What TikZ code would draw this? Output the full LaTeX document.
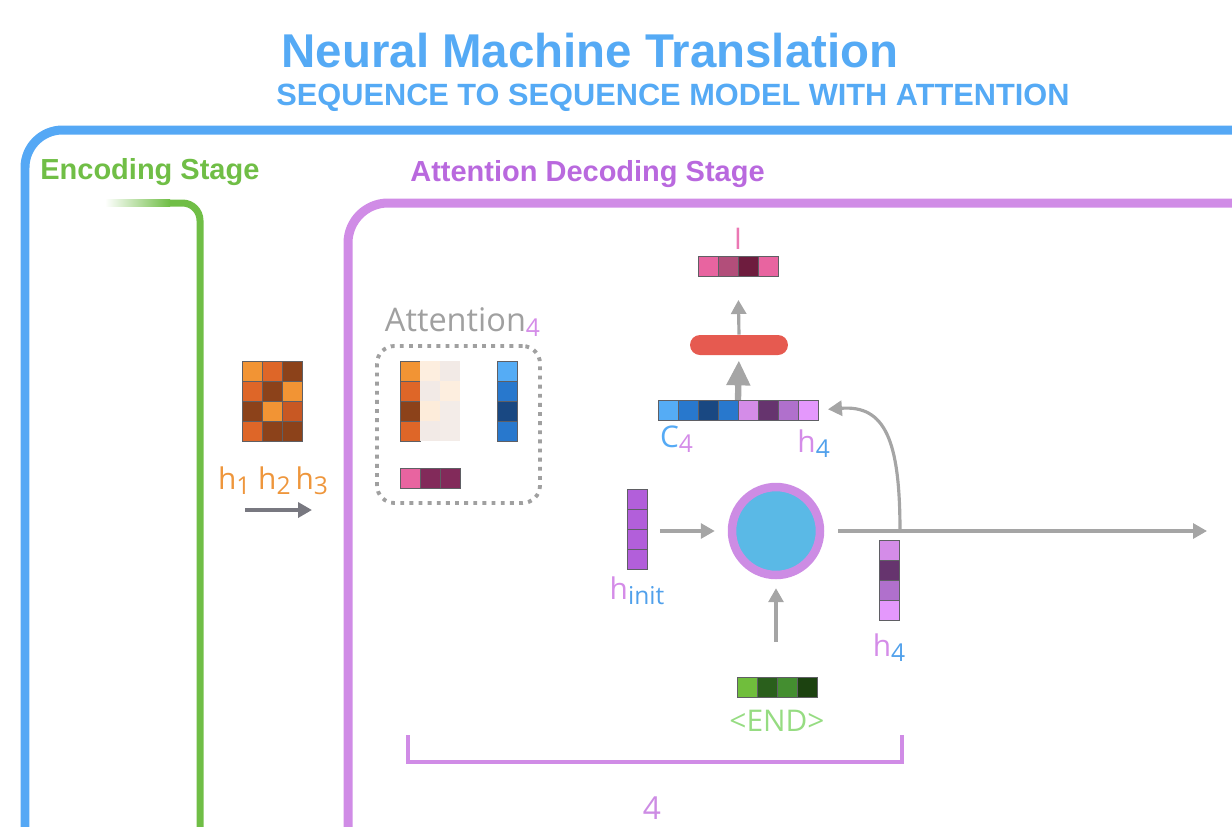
\documentclass[tikz,border=0pt]{standalone}
\usepackage{fontspec}
\setmainfont{Open Sans}
\newfontfamily\headfont{Liberation Sans}
\usetikzlibrary{arrows.meta,positioning,fit}

\definecolor{titleblue}  {RGB}{ 85,170,245}
\definecolor{frameblue}  {RGB}{ 85,168,245}
\definecolor{encgreen}   {RGB}{112,190, 70}
\definecolor{decpurple}  {RGB}{185,105,222}
\definecolor{framepurple}{RGB}{208,140,230}
\definecolor{arrowgray}  {RGB}{165,165,165}
\definecolor{darkarrow}  {RGB}{120,120,128}
\definecolor{cellgray}   {RGB}{ 95, 95,100}
\definecolor{dotgray}    {RGB}{160,160,160}
% cell colours
\definecolor{orL}{RGB}{242,148, 52}
\definecolor{orM}{RGB}{222,102, 40}
\definecolor{orD}{RGB}{140, 66, 26}
\definecolor{orX}{RGB}{200, 88, 35}
\definecolor{bL} {RGB}{ 85,172,245}
\definecolor{bM} {RGB}{ 40,120,205}
\definecolor{bD} {RGB}{ 25, 72,130}
\definecolor{pkL}{RGB}{232,100,160}
\definecolor{pkM}{RGB}{178, 78,122}
\definecolor{pkD}{RGB}{110, 28, 62}
\definecolor{pkW}{RGB}{130, 42, 90}
\definecolor{puL}{RGB}{212,140,232}
\definecolor{puD}{RGB}{102, 52,110}
\definecolor{puM}{RGB}{176,112,204}
\definecolor{puP}{RGB}{228,152,252}
\definecolor{puH}{RGB}{178, 95,218}
\definecolor{gL} {RGB}{112,190, 60}
\definecolor{gD} {RGB}{ 42, 95, 28}
\definecolor{gM} {RGB}{ 68,142, 48}
\definecolor{gX} {RGB}{ 28, 66, 16}
% label colours
\definecolor{hOrange}{RGB}{238,150, 60}
\definecolor{cBlue}  {RGB}{ 85,170,245}
\definecolor{hPurple}{RGB}{212,140,232}
\definecolor{subBlue}{RGB}{ 80,160,235}
\definecolor{attGray}{RGB}{160,160,160}
\definecolor{outPink}{RGB}{235,120,180}
\definecolor{endGreen}{RGB}{150,220,130}
\definecolor{ringpurple}{RGB}{205,140,228}
\definecolor{coreblue}{RGB}{ 90,185,230}
\definecolor{projred}{RGB}{230, 90, 80}

\newcommand{\lowidx}[2]{\raisebox{-0.3ex}{\color{#1}\fontsize{14}{14}\selectfont #2}}

\begin{document}
\begin{tikzpicture}[x=0.02cm, y=-0.02cm,
    cell/.style={draw=cellgray, line width=0.5pt, minimum size=0.4cm, inner sep=0pt, outer sep=0pt},
    ghost/.style={cell, draw=none},
    vecbox/.style={inner sep=0pt, outer sep=0pt},
    frame/.style={line width=0.18cm, rounded corners=0.75cm},
    stage/.style={font=\headfont\bfseries\fontsize{16.5}{18}\selectfont, anchor=west, inner sep=0pt},
    lbl/.style={font=\fontsize{17}{18}\selectfont, inner sep=1pt},
    attbox/.style={draw=dotgray, line width=2.2pt, dash pattern=on 2.2pt off 3pt, rounded corners=0.35cm, inner xsep=0.46cm, inner ysep=0.3cm},
    arrow/.style={-{Triangle[length=0.28cm, width=0.3cm]}, draw=arrowgray, line width=1.8pt},
    bigarrow/.style={-{Triangle[length=0.5cm, width=0.45cm]}, draw=arrowgray, line width=3.6pt},
    bracket/.style={draw=framepurple, line width=2.8pt}
]
    \clip (0,0) rectangle (1232,826);

    % Titles
    \node[font=\headfont\bfseries\fontsize{27}{30}\selectfont, text=titleblue] (title) at (590,51) {Neural Machine Translation};
    \node[font=\headfont\bfseries\fontsize{17.5}{20}\selectfont, text=titleblue] (subtitle) at (673,98) {SEQUENCE TO SEQUENCE MODEL WITH ATTENTION};

    % Stage frames
    \draw[frame, draw=frameblue] (25,840) -- (25,130) -- (1250,130);
    \node[stage, text=encgreen] (enclbl) at (40,172) {Encoding Stage};
    \draw[encgreen, line width=0.14cm, rounded corners=0.35cm] (200,840) -- (200,203) -- (169,203);
    \shade[left color=white, right color=encgreen] (105,199.5) rectangle (170,206.5);
    \node[stage, text=decpurple] (declbl) at (410,174) {Attention Decoding Stage};
    \draw[frame, draw=framepurple, rounded corners=0.8cm] (348,840) -- (348,203) -- (1250,203);

    % Encoder hidden states
    \foreach \r/\ca/\cb/\cc in {1/orL/orM/orD, 2/orM/orD/orL, 3/orD/orL/orX, 4/orM/orD/orD} {
        \node[cell, fill=\ca] (enc\r1) at (252,351+20*\r) {};
        \node[cell, fill=\cb] (enc\r2) at (272,351+20*\r) {};
        \node[cell, fill=\cc] (enc\r3) at (292,351+20*\r) {};
    }
    \node[vecbox, fit=(enc11)(enc43)] (enc) {};
    \node[lbl, text=hOrange] (hlbl) at (273,481) {h\lowidx{hOrange}{1} h\lowidx{hOrange}{2}\,h\lowidx{hOrange}{3}};
    \coordinate (encA) at (245,510);
    \coordinate (encB) at (312,510);
    \draw[arrow, draw=darkarrow, line width=2.2pt] (encA) -- (encB);

    % Attention step
    \foreach \r/\ca/\cb/\cc in {1/orL/orL!16/orD!11, 2/orM/orD!11/orL!16, 3/orD/orL!18/orD!10, 4/orM/orD!11/orD!10} {
        \node[cell, fill=\ca] (am\r1) at (410,351+20*\r) {};
        \node[ghost, fill=\cb] (am\r2) at (430,351+20*\r) {};
        \node[ghost, fill=\cc] (am\r3) at (450,351+20*\r) {};
    }
    \foreach \c [count=\i] in {bL,bM,bD,bM}
        \node[cell, fill=\c] (ctx\i) at (507,351+20*\i) {};
    \foreach \c [count=\i] in {pkL,pkW,pkW}
        \node[cell, fill=\c] (w\i) at (390+20*\i,478) {};
    \node[attbox, fit=(am11)(am43)(ctx4)(w3)] (attn) {};
    \node[lbl, text=attGray, font=\fontsize{18.5}{20}\selectfont, above=0.1cm of attn, xshift=0.08cm] (attlbl) {Attention\lowidx{puL}{4}};

    % Output word
    \foreach \c [count=\i] in {pkL,pkM,pkD,pkL}
        \node[cell, fill=\c] (out\i) at (688+20*\i,266) {};
    \node[vecbox, fit=(out1)(out4)] (outvec) {};
    \node[lbl, text=outPink, above=0.08cm of outvec] (outlbl) {I};
    \node[fill=projred, rounded corners=0.2cm, minimum width=1.96cm, minimum height=0.4cm, inner sep=0pt] (proj) at (739,345) {};

    % Concatenated context and hidden state
    \foreach \c [count=\i] in {bL,bM,bD,bM,puL,puD,puM,puP}
        \node[cell, fill=\c] (cat\i) at (648+20*\i,410) {};
    \node[vecbox, fit=(cat1)(cat8)] (cat) {};
    \node[lbl, text=cBlue, below=0.08cm of cat.south west, anchor=north west] (clbl) {C\lowidx{puL}{4}};
    \node[lbl, text=hPurple, below=0.16cm of cat.south east, anchor=north east, xshift=0.28cm] (hcatlbl) {h\lowidx{subBlue}{4}};

    % Decoder cell
    \node[circle, fill=coreblue, draw=ringpurple, line width=0.17cm, minimum size=1.76cm, inner sep=0pt] (rnn) at (776,531) {};
    \foreach \c [count=\i] in {puH,puH,puH,puH}
        \node[cell, fill=\c] (hin\i) at (637,489+20*\i-10) {};
    \node[vecbox, fit=(hin1)(hin4)] (hinit) {};
    \node[lbl, text=hPurple, below=0.12cm of hinit] (hinitlbl) {h\lowidx{subBlue}{init}};
    \foreach \c [count=\i] in {gL,gD,gM,gX}
        \node[cell, fill=\c] (end\i) at (727+20*\i,687) {};
    \node[vecbox, fit=(end1)(end4)] (endvec) {};
    \node[lbl, text=endGreen, below=0.22cm of endvec] (endlbl) {<END>};
    \foreach \c [count=\i] in {puL,puD,puM,puP}
        \node[cell, fill=\c] (hf\i) at (889,540+20*\i-10) {};
    \node[vecbox, fit=(hf1)(hf4)] (hfour) {};
    \node[lbl, text=hPurple, below=0.24cm of hfour] (hfourlbl) {h\lowidx{subBlue}{4}};

    \coordinate (split) at (900,531);
    \coordinate (outend) at (1207,531);

    % Connections
    \draw[arrow, shorten <=0.26cm, shorten >=0.26cm] (hinit.east |- rnn.west) -- (rnn.west);
    \draw[arrow, shorten <=0.7cm, shorten >=0.18cm] (rnn.south |- endvec.north) -- (rnn.south);
    \draw[arrow, shorten <=0.28cm] (rnn.east) -- (outend);
    \draw[arrow, shorten >=0.2cm] (split) .. controls (900,440) and (885,405) .. (cat.east);
    \draw[bigarrow, shorten >=0.1cm] (cat.north) -- (proj.south);
    \draw[arrow, shorten >=0.48cm] (proj.north) -- (outvec.south);

    % Time step bracket
    \coordinate (brL) at (408,735);
    \coordinate (brR) at (902,735);
    \draw[bracket] (brL) -- ++(0,27) -| (brR);
    \node[lbl, text=ringpurple, font=\fontsize{18}{20}\selectfont] (steplbl) at (652,808) {4};
\end{tikzpicture}
\end{document}
